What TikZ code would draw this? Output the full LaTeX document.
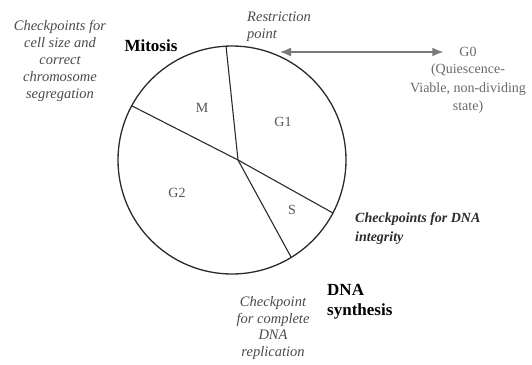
\documentclass[tikz,border=0pt]{standalone}
\usepackage{fontspec}
\setmainfont{Liberation Serif}
\usepackage{xcolor}
\usetikzlibrary{arrows.meta,positioning,calc}
\definecolor{cycleink}{HTML}{2B2B2B}
\definecolor{cyclenote}{HTML}{4A4A4A}
\definecolor{cyclephase}{HTML}{555555}
\definecolor{cyclearrow}{HTML}{7A7A7A}
\definecolor{cyclequiet}{HTML}{6A6A6A}

\begin{document}
\begin{tikzpicture}[
  x=1pt,y=-1pt,
  note/.style={font=\itshape\fontsize{14.5}{17}\selectfont,text=cyclenote,align=center,inner sep=0pt},
  phase/.style={font=\fontsize{14}{16}\selectfont,text=cyclephase,inner sep=0pt},
  stage/.style={font=\bfseries\fontsize{17}{20}\selectfont,text=black,align=left,inner sep=0pt},
  quiet/.style={font=\fontsize{14}{18.5}\selectfont,text=cyclequiet,align=center,inner sep=0pt},
  wheel/.style={draw=cycleink,line width=1.3pt},
  spoke/.style={draw=cycleink,line width=1.1pt},
  arr/.style={{Latex[length=11pt,width=9pt]}-{Latex[length=11pt,width=9pt]},draw=cyclearrow,line width=1.4pt}
]
\useasboundingbox (0,0) rectangle (532,364);

% the cell cycle wheel
\coordinate (cc) at (232,160);
\coordinate (hub) at (238,160);
\draw[wheel] (cc) circle[radius=114];
\draw[spoke] (hub) -- ($(cc)+(-93:114)$);
\draw[spoke] (hub) -- ($(cc)+(-151.6:114)$);
\draw[spoke] (hub) -- ($(cc)+(27.7:114)$);
\draw[spoke] (hub) -- ($(cc)+(58.7:114)$);

% phases
\node[phase] (m) at (202,108) {M};
\node[phase] (g1) at (283,122) {G1};
\node[phase] (g2) at (177,193) {G2};
\node[phase] (s) at (292,210) {S};

% stages and checkpoints
\node[stage] (mit) at (151,46) {Mitosis};
\node[note] (cell) at (60,61) {Checkpoints for\\cell size and\\correct\\chromosome\\segregation};
\node[note,align=left,anchor=west] (rp) at (247,27) {Restriction\\point};
\node[note,font=\bfseries\itshape\fontsize{14}{19}\selectfont,text=cycleink,align=left,anchor=west] (integ) at (355,229) {Checkpoints for DNA\\integrity};
\node[stage,anchor=west] (syn) at (327,302) {DNA\\synthesis};
\node[note,font=\itshape\fontsize{14.5}{16.5}\selectfont] (repl) at (273,328) {Checkpoint\\for complete\\DNA\\replication};

% quiescence
\node[quiet] (g0) at (468,52) {G0};
\node[quiet,below=7pt of g0] (g0txt) {(Quiescence-\\Viable, non-dividing\\state)};
\coordinate (rpt) at (280,52);
\draw[arr] (rpt) -- ([xshift=-16pt]g0.west);
\end{tikzpicture}
\end{document}
